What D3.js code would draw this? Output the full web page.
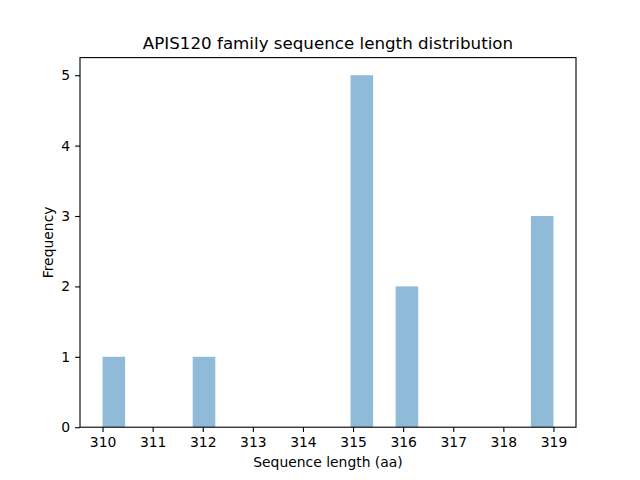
<html>
<head>
<meta charset="utf-8">
<script src="https://cdn.jsdelivr.net/npm/d3@7"></script>
<style>
  body { margin: 0; background: #fff; }
  svg { font-family: "DejaVu Sans", sans-serif; }
</style>
</head>
<body>
<svg id="chart" width="640" height="480"></svg>
<script>
// sequence lengths (aa) of the family members
var lengths = [310, 312, 315, 315, 315, 315, 315, 316, 316, 319, 319, 319];
var xTicks = [310, 311, 312, 313, 314, 315, 316, 317, 318, 319];
var yTicks = [0, 1, 2, 3, 4, 5];
var nBins = 20;

var W = 640, H = 480;
var margin = {left: 80, right: 64, top: 57.6, bottom: 52.8};
var iw = W - margin.left - margin.right;
var ih = H - margin.top - margin.bottom;

var lo = d3.min(lengths), hi = d3.max(lengths);
var step = (hi - lo) / nBins;
var edges = d3.range(nBins + 1).map(function(i) { return lo + i * step; });

var bins = d3.bin().domain([lo, hi]).thresholds(edges.slice(1, -1))(lengths);

var pad = (hi - lo) * 0.05;
var x = d3.scaleLinear().domain([lo - pad, hi + pad]).range([0, iw]);
var ymax = d3.max(bins, function(b) { return b.length; });
var y = d3.scaleLinear().domain([0, ymax * 1.05]).range([ih, 0]);

var svg = d3.select('#chart');
var g = svg.append('g').attr('transform', 'translate(' + margin.left + ',' + margin.top + ')');

g.selectAll('rect.bar').data(bins).enter().append('rect')
  .attr('class', 'bar')
  .attr('x', function(d) { return x(d.x0); })
  .attr('width', function(d) { return x(d.x1) - x(d.x0); })
  .attr('y', function(d) { return y(d.length); })
  .attr('height', function(d) { return ih - y(d.length); })
  .attr('fill', '#1f77b4')
  .attr('fill-opacity', 0.5);

var xAxis = g.append('g').attr('transform', 'translate(0,' + ih + ')')
  .call(d3.axisBottom(x).tickValues(xTicks).tickSize(4.9).tickPadding(4.9).tickFormat(d3.format('d')));
var yAxis = g.append('g')
  .call(d3.axisLeft(y).tickValues(yTicks).tickSize(4.9).tickPadding(4.9).tickFormat(d3.format('d')));

[xAxis, yAxis].forEach(function(a) {
  a.select('.domain').remove();
  a.selectAll('text').attr('font-size', '13.9px').attr('fill', '#000').attr('font-family', 'DejaVu Sans');
  a.selectAll('line').attr('stroke', '#000').attr('stroke-width', 1.1);
});

g.append('rect').attr('x', 0).attr('y', 0).attr('width', iw).attr('height', ih)
  .attr('fill', 'none').attr('stroke', '#000').attr('stroke-width', 1.1);

svg.append('text').attr('x', margin.left + iw / 2).attr('y', margin.top - 9)
  .attr('text-anchor', 'middle').attr('font-size', '16.7px')
  .text('APIS120 family sequence length distribution');

svg.append('text').attr('x', margin.left + iw / 2).attr('y', H - 13)
  .attr('text-anchor', 'middle').attr('font-size', '13.9px')
  .text('Sequence length (aa)');

svg.append('text')
  .attr('transform', 'translate(53,' + (margin.top + ih / 2) + ') rotate(-90)')
  .attr('text-anchor', 'middle').attr('font-size', '13.9px')
  .text('Frequency');
</script>
</body>
</html>
